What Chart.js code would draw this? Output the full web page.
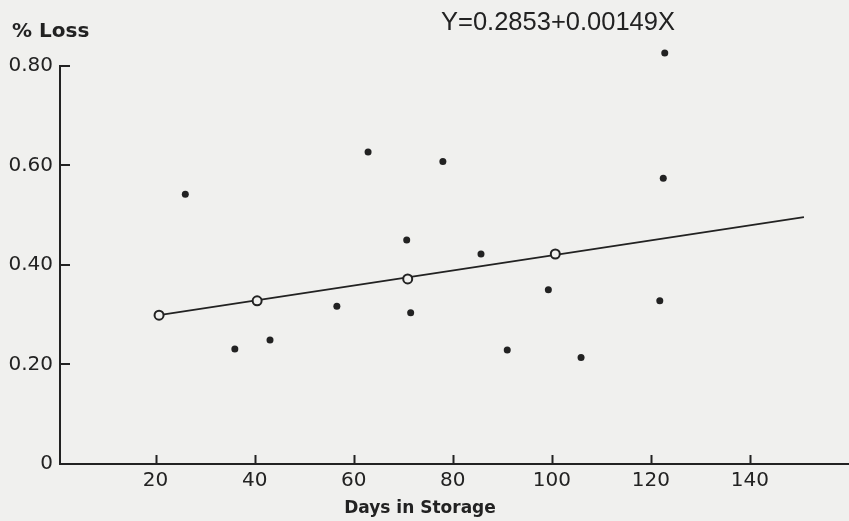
<!DOCTYPE html>
<html>
<head>
<meta charset="utf-8">
<script src="https://cdn.jsdelivr.net/npm/chart.js@4/dist/chart.umd.min.js"></script>
<style>
  html, body { margin: 0; padding: 0; background: #f0f0ee; }
  #wrap { width: 849px; height: 521px; }
</style>
</head>
<body>
<div id="wrap"><canvas id="c" width="849" height="521"></canvas></div>
<script>
// ---- data ----
const observedDays = [26.0, 36.0, 43.1, 56.6, 62.9, 70.7, 71.5, 78.0, 85.7, 91.0, 99.3, 105.9, 121.8, 122.5, 122.8];
const observedLoss = [0.542, 0.231, 0.249, 0.317, 0.627, 0.450, 0.304, 0.608, 0.422, 0.229, 0.350, 0.214, 0.328, 0.574, 0.826];
const meanDays = [20.7, 40.5, 70.9, 100.7];
const meanLoss = [0.299, 0.328, 0.372, 0.422];
const fitLineDays = [20.7, 150.9];
const fitLineLoss = [0.299, 0.496];
const xTickValues = [20, 40, 60, 80, 100, 120, 140];
const yTickValues = [0, 0.2, 0.4, 0.6, 0.8];
const yTickLabels = ["0", "0.20", "0.40", "0.60", "0.80"];
const yAxisTop = 0.8;
const equationText = "Y=0.2853+0.00149X";
const yAxisTitle = "% Loss";
const xAxisTitle = "Days in Storage";

const INK = '#222222';
const BG = '#f0f0ee';

const toXY = (xs, ys) => xs.map((x, i) => ({ x: x, y: ys[i] }));

const axesAndText = {
  id: 'axesAndText',
  afterDatasetsDraw(chart) {
    const ctx = chart.ctx;
    const xs = chart.scales.x, ys = chart.scales.y;
    const area = chart.chartArea;
    ctx.save();
    ctx.strokeStyle = INK;
    ctx.lineWidth = 2;
    // y axis line from 0 to the top value
    const yTopPx = Math.round(ys.getPixelForValue(yAxisTop));
    ctx.beginPath();
    ctx.moveTo(area.left, area.bottom);
    ctx.lineTo(area.left, yTopPx - 1);
    ctx.stroke();
    xTickValues.forEach(v => {
      const px = Math.round(xs.getPixelForValue(v)) + 0.5;
      ctx.beginPath();
      ctx.moveTo(px, area.bottom);
      ctx.lineTo(px, area.bottom - 9);
      ctx.stroke();
    });
    yTickValues.forEach(v => {
      if (v === 0) return;
      const py = Math.round(ys.getPixelForValue(v));
      ctx.beginPath();
      ctx.moveTo(area.left, py);
      ctx.lineTo(area.left + 10, py);
      ctx.stroke();
    });
    // texts
    ctx.fillStyle = INK;
    ctx.textBaseline = 'middle';
    ctx.textAlign = 'left';
    ctx.font = 'bold 20px "DejaVu Sans"';
    ctx.fillText(yAxisTitle, 12, 32);
    ctx.font = '25.5px "Liberation Sans"';
    ctx.fillText(equationText, 441, 23);
    ctx.textAlign = 'center';
    ctx.font = 'bold 17px "DejaVu Sans"';
    ctx.fillText(xAxisTitle, 420, 509);
    ctx.restore();
  }
};

new Chart(document.getElementById('c'), {
  type: 'scatter',
  data: {
    datasets: [
      {
        label: 'fit',
        data: toXY(fitLineDays, fitLineLoss),
        showLine: true,
        borderColor: INK,
        borderWidth: 1.8,
        pointRadius: 0,
        order: 3
      },
      {
        label: 'means',
        data: toXY(meanDays, meanLoss),
        pointRadius: 4.5,
        pointBorderWidth: 2,
        pointBackgroundColor: BG,
        pointBorderColor: INK,
        order: 1
      },
      {
        label: 'observed',
        data: toXY(observedDays, observedLoss),
        pointRadius: 3.5,
        pointBorderWidth: 0,
        pointBackgroundColor: INK,
        pointBorderColor: INK,
        order: 2
      }
    ]
  },
  options: {
    responsive: false,
    animation: false,
    devicePixelRatio: 1,
    layout: { autoPadding: false, padding: { top: 46, right: 0, left: 0, bottom: 0 } },
    plugins: { legend: { display: false }, tooltip: { enabled: false }, title: { display: false } },
    scales: {
      x: {
        type: 'linear',
        min: 0.7,
        max: 160,
        afterBuildTicks: (s) => { s.ticks = xTickValues.map(v => ({ value: v })); },
        afterFit: (s) => { s.height = 57; s.paddingLeft = 0; s.paddingRight = 0; },
        grid: { display: false, drawTicks: false },
        border: { display: true, color: INK, width: 2 },
        ticks: {
          color: INK,
          padding: 5,
          font: { family: 'DejaVu Sans', size: 20 },
          maxRotation: 0,
          autoSkip: false
        }
      },
      y: {
        type: 'linear',
        min: 0,
        max: 0.84,
        afterBuildTicks: (s) => { s.ticks = yTickValues.map(v => ({ value: v })); },
        afterFit: (s) => { s.width = 60; s.paddingTop = 0; s.paddingBottom = 0; },
        grid: { display: false, drawTicks: false },
        border: { display: false },
        ticks: {
          color: INK,
          padding: 7,
          font: { family: 'DejaVu Sans', size: 20 },
          autoSkip: false,
          callback: (v) => { const i = yTickValues.indexOf(v); return i >= 0 ? yTickLabels[i] : ''; }
        }
      }
    }
  },
  plugins: [axesAndText]
});
</script>
</body>
</html>
